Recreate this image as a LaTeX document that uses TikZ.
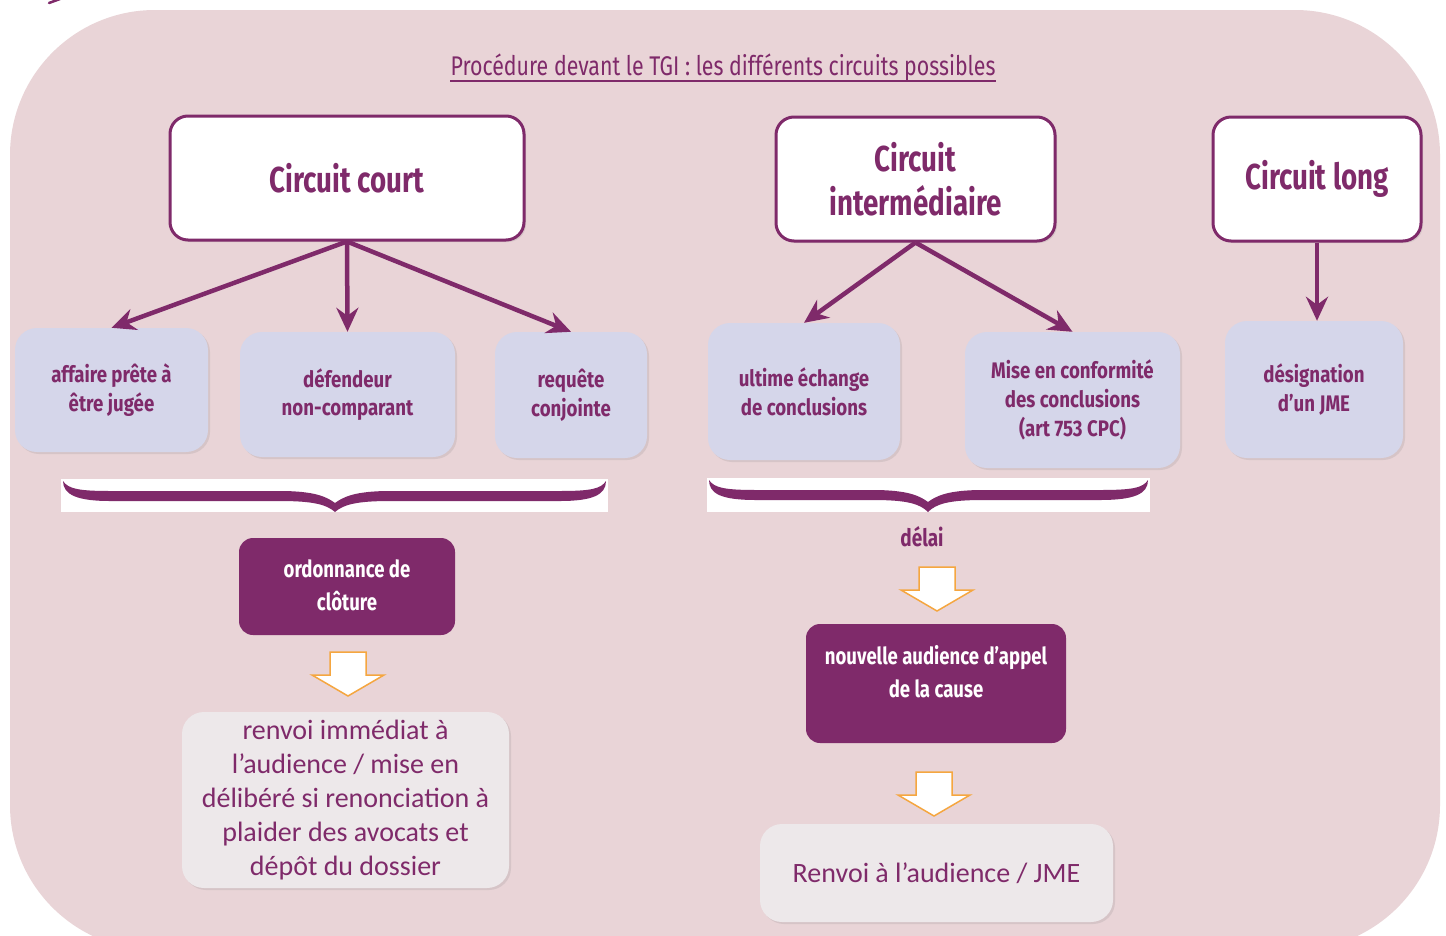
\documentclass[tikz,border=0pt]{standalone}
\usepackage{fontspec}
\usetikzlibrary{arrows.meta,shadows}
\newfontfamily\twcA[FakeStretch=0.77]{Fira Sans}
\newfontfamily\twcB[FakeStretch=0.83]{Fira Sans}
\newfontfamily\twcC[FakeStretch=0.79]{Fira Sans}
\newfontfamily\carl{Carlito}
\definecolor{purp}{HTML}{7F2A6A}
\definecolor{bgpink}{HTML}{E9D4D7}
\definecolor{lav}{HTML}{D5D6EA}
\definecolor{greybox}{HTML}{EDE8EA}
\definecolor{orangeln}{HTML}{F5A640}
\tikzset{
  softshadow/.style={drop shadow={opacity=0.18, shadow xshift=2pt, shadow yshift=-2pt}},
  headbox/.style={draw=purp, line width=3pt, fill=white, rounded corners=18pt, text=purp,
    align=center, inner sep=0pt, softshadow,
    font=\twcA\bfseries\fontsize{36}{44}\selectfont},
  subbox/.style={fill=lav, rounded corners=22pt, text=purp, align=center, inner sep=0pt,
    softshadow, font=\twcB\bfseries\fontsize{22.5}{28.8}\selectfont},
  darkbox/.style={fill=purp, rounded corners=14pt, inner sep=0pt},
  darktext/.style={text=white, align=center, inner sep=0pt,
    font=\twcC\bfseries\fontsize{23.5}{33.5}\selectfont},
  greyb/.style={fill=greybox, rounded corners=22pt, text=purp, align=center, inner sep=0pt,
    softshadow, font=\carl\fontsize{28}{34}\selectfont},
  conn/.style={draw=purp, line width=4.5pt, -{Stealth[length=24pt,width=22pt,inset=8pt]}},
  blockarr/.pic={\draw[orangeln, line width=1.5pt, fill=white, line join=miter]
    (-18,0) -- (18,0) -- (18,23) -- (36,23) -- (0,44) -- (-36,23) -- (-18,23) -- cycle;}
}
\begin{document}
\begin{tikzpicture}[x=1pt,y=-1pt]
\useasboundingbox[fill=white] (0,0) rectangle (1446,935);
% background
\fill[bgpink, rounded corners=145pt] (10,10) rectangle (1440,950);
% tiny fragment at top left
\draw[purp, line width=2.5pt, line cap=round] (49,3) -- (60,-1);
% title
\node[text=purp, inner sep=0pt, font=\twcC\fontsize{27}{32}\selectfont] (title) at (723,68)
  {Procédure devant le TGI : les différents circuits possibles};
\draw[purp, line width=1.4pt] ([yshift=-5pt]title.base west) -- ([yshift=-5pt]title.base east);
% head boxes
\node[headbox, minimum width=354pt, minimum height=124pt] (cc) at (347,178) {Circuit court};
\node[headbox, minimum width=279pt, minimum height=124pt] (ci) at (915.5,179) {Circuit\\intermédiaire};
\node[headbox, minimum width=208pt, minimum height=124pt] (cl) at (1317,179) {Circuit long};
% sub boxes
\node[subbox, minimum width=193pt, minimum height=124pt] (aff) at (111.5,390) {affaire prête à\\être jugée};
\node[subbox, minimum width=215pt, minimum height=125pt] (def) at (347.5,394.5) {défendeur\\non-comparant};
\node[subbox, minimum width=152pt, minimum height=126pt] (req) at (571,395) {requête\\conjointe};
\node[subbox, minimum width=192pt, minimum height=137pt] (ult) at (804,391.5) {ultime échange\\de conclusions};
\node[subbox, minimum width=215pt, minimum height=136pt] (mise) at (1072.5,400) {Mise en conformité\\des conclusions\\(art 753 CPC)};
\node[subbox, minimum width=178pt, minimum height=137pt] (des) at (1314,389.5) {désignation\\d’un JME};
% connectors
\draw[conn] (cc.south) -- (aff.north);
\draw[conn] (cc.south) -- (def.north);
\draw[conn] (cc.south) -- (req.north);
\draw[conn] (ci.south) -- (ult.north);
\draw[conn] (ci.south) -- (mise.north);
\draw[conn] (cl.south) -- (cl.south |- des.north);
% braces
\fill[white] (61,479) rectangle (608,512);
\fill[purp] (63,481) .. controls (68,489) and (80,491) .. (110,491) -- (280,491)
  .. controls (315,491) and (327,497) .. (335,503)
  .. controls (343,497) and (355,491) .. (390,491) -- (560,491)
  .. controls (590,491) and (601,489) .. (606,481)
  .. controls (606,495) and (592,501) .. (560,501) -- (390,501)
  .. controls (355,501) and (343,505) .. (335,512)
  .. controls (327,505) and (315,501) .. (280,501) -- (110,501)
  .. controls (78,501) and (63,495) .. (63,481) -- cycle;
\fill[white] (707,478) rectangle (1150,512);
\fill[purp] (709,480) .. controls (714,488) and (726,490) .. (756,490) -- (873,490)
  .. controls (908,490) and (920,496) .. (928,502)
  .. controls (936,496) and (948,490) .. (983,490) -- (1100,490)
  .. controls (1132,490) and (1143,488) .. (1148,480)
  .. controls (1148,494) and (1134,500) .. (1100,500) -- (983,500)
  .. controls (948,500) and (936,504) .. (928,512)
  .. controls (920,504) and (908,500) .. (873,500) -- (756,500)
  .. controls (722,500) and (709,494) .. (709,480) -- cycle;
\node[text=purp, inner sep=0pt, font=\twcC\bfseries\fontsize{24}{26}\selectfont] (delai) at (922,537) {délai};
% lower part
\node[darkbox, minimum width=216pt, minimum height=97pt] (ord) at (347,586.5) {};
\node[darktext] (ordt) at ([yshift=1pt]ord.center) {ordonnance de\\clôture};
\pic at (348,652) {blockarr};
\node[greyb, minimum width=327pt, minimum height=176pt] (ren1) at (345.5,800)
  {renvoi immédiat à\\l’audience / mise en\\délibéré si renonciation à\\plaider des avocats et\\dépôt du dossier};
\pic at (937,567) {blockarr};
\node[darkbox, minimum width=260pt, minimum height=119pt] (nou) at (936,683.5) {};
\node[darktext] (nout) at ([yshift=12pt]nou.center) {nouvelle audience d’appel\\de la cause};
\pic at (934,772) {blockarr};
\node[greyb, minimum width=353pt, minimum height=98pt] (ren2) at (936.5,873) {Renvoi à l’audience / JME};
\end{tikzpicture}
\end{document}
